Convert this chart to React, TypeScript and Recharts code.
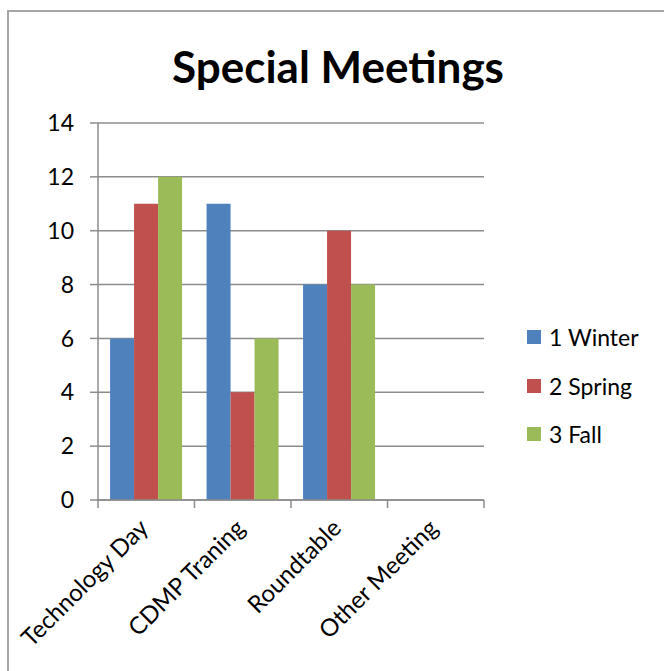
import React from "react";
import { BarChart, Bar, XAxis, YAxis, CartesianGrid } from "recharts";

const categories = ["Technology Day", "CDMP Traning", "Roundtable", "Other Meeting"];
const winter = [6, 11, 8, 0];
const spring = [11, 4, 10, 0];
const fall = [12, 6, 8, 0];
const yTicks = [0, 2, 4, 6, 8, 10, 12, 14];

const seriesList = [
  { key: "winter", name: "1 Winter", color: "#4F81BD" },
  { key: "spring", name: "2 Spring", color: "#C0504D" },
  { key: "fall", name: "3 Fall", color: "#9BBB59" },
];

const data = categories.map((name, i) => ({
  name,
  winter: winter[i],
  spring: spring[i],
  fall: fall[i],
}));

const FONT = "Lato, 'Open Sans', sans-serif";
const GRAY = "#8c8c8c";

const CHART_W = 664;
const CHART_H = 671;
const MARGIN = { top: 123, right: 180, bottom: 170, left: 97 };
const Y_AXIS_W = 1;
const BAND = (CHART_W - MARGIN.left - MARGIN.right - Y_AXIS_W) / categories.length;

const AngledTick = (props: any) => {
  const { x, y, payload, index } = props;
  const ax = x - 10;
  const ay = y + 15;
  const axisY = y - 1;
  const isLast = index === categories.length - 1;
  return (
    <g>
      <line x1={x - BAND / 2} x2={x - BAND / 2} y1={axisY} y2={axisY + 8} stroke={GRAY} strokeWidth={1.5} />
      {isLast && (
        <line x1={x + BAND / 2} x2={x + BAND / 2} y1={axisY} y2={axisY + 8} stroke={GRAY} strokeWidth={1.5} />
      )}
      <text
        x={ax}
        y={ay}
        textAnchor="end"
        fontSize={24}
        fontFamily={FONT}
        fill="#000"
        transform={`rotate(-45 ${ax} ${ay})`}
        dominantBaseline="hanging"
      >
        {payload.value}
      </text>
    </g>
  );
};

export default function App() {
  return (
    <div style={{ position: "absolute", left: 0, top: 0, width: 664, height: 671, background: "#fff" }}>
      <div
        style={{
          position: "absolute",
          left: 7,
          top: 10,
          width: 657,
          height: 661,
          borderTop: "2px solid #a6a6a6",
          borderLeft: "2px solid #a6a6a6",
          boxSizing: "border-box",
        }}
      />
      <div
        style={{
          position: "absolute",
          left: 0,
          top: 38,
          width: 676,
          textAlign: "center",
          fontFamily: FONT,
          fontWeight: 700,
          fontSize: 44,
          lineHeight: "56px",
        }}
      >
        Special Meetings
      </div>
      <div style={{ position: "absolute", left: 0, top: 0 }}>
        <BarChart
          width={CHART_W}
          height={CHART_H}
          data={data}
          margin={MARGIN}
          barCategoryGap="12.5%"
          barGap={0}
        >
          <CartesianGrid
            horizontal
            vertical={false}
            stroke={GRAY}
            strokeWidth={1.5}
          />
          <XAxis
            dataKey="name"
            height={1}
            tickLine={false}
            tickSize={0}
            tickMargin={1}
            axisLine={{ stroke: GRAY, strokeWidth: 1.5 }}
            tick={<AngledTick />}
            interval={0}
          />
          <YAxis
            width={Y_AXIS_W}
            domain={[0, 14]}
            ticks={yTicks}
            tickSize={8}
            tickMargin={16}
            axisLine={{ stroke: GRAY, strokeWidth: 1.5 }}
            tickLine={{ stroke: GRAY, strokeWidth: 1.5 }}
            tick={{ fill: "#000", fontSize: 23, fontFamily: FONT }}
          />
          {seriesList.map((s) => (
            <Bar
              key={s.key}
              dataKey={s.key}
              name={s.name}
              fill={s.color}
              isAnimationActive={false}
            />
          ))}
        </BarChart>
      </div>
      <div
        style={{
          position: "absolute",
          left: 527,
          top: 313,
          fontFamily: FONT,
          fontSize: 23,
        }}
      >
        {seriesList.map((s) => (
          <div key={s.key} style={{ display: "flex", alignItems: "center", height: 48.5 }}>
            <span
              style={{
                display: "inline-block",
                width: 14,
                height: 14,
                background: s.color,
                marginRight: 8,
              }}
            />
            <span>{s.name}</span>
          </div>
        ))}
      </div>
    </div>
  );
}
